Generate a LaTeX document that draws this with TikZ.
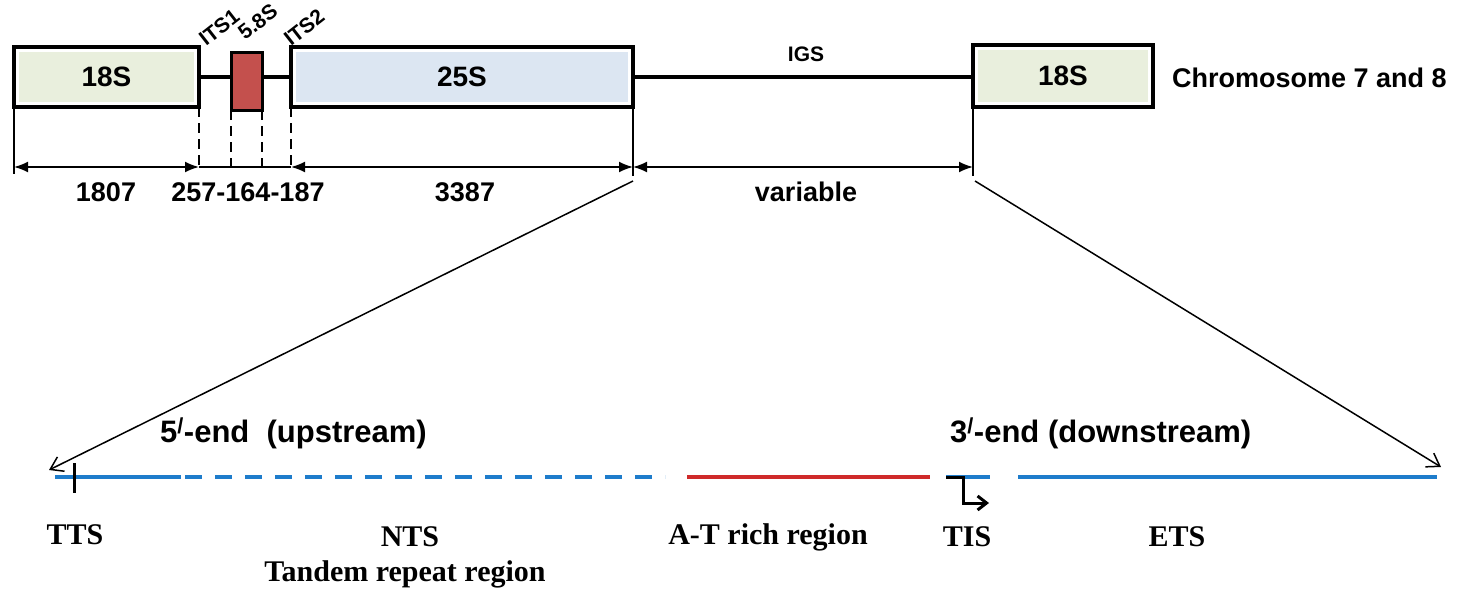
\documentclass[tikz,border=0pt]{standalone}
\usepackage{fontspec}
\setmainfont{Liberation Serif}
\setsansfont{Liberation Sans}
\usetikzlibrary{arrows.meta}

\definecolor{greenfill}{HTML}{E9EFDD}
\definecolor{bluefill}{HTML}{DCE6F2}
\definecolor{redbox}{HTML}{C4504D}
\definecolor{lineblue}{HTML}{1E7CCB}
\definecolor{linered}{HTML}{CF2A2A}

\tikzset{
  gene/.style={draw=black, line width=4pt, fill=white, inner sep=0pt, outer sep=0pt,
    font=\sffamily\bfseries\fontsize{28}{30}\selectfont,
    path picture={\fill[#1]
      ([shift={(5pt,-5pt)}]path picture bounding box.north west) rectangle
      ([shift={(-5pt,5pt)}]path picture bounding box.south east);}},
  spacer/.style={line width=4pt},
  dimline/.style={line width=1.8pt},
  dimarrow/.style={line width=1.8pt, {Latex[length=14pt,width=11pt]}-{Latex[length=14pt,width=11pt]}},
  guide/.style={line width=1.8pt},
  guidedash/.style={line width=2pt, dash pattern=on 10pt off 6pt},
  zoomline/.style={line width=1.5pt, -{Straight Barb[length=12pt,width=16pt,line width=1.5pt]}},
  toplabel/.style={font=\sffamily\bfseries\fontsize{27}{30}\selectfont, inner sep=0pt},
  smalllabel/.style={font=\sffamily\bfseries\fontsize{21}{24}\selectfont, inner sep=0pt},
  endlabel/.style={font=\sffamily\bfseries\fontsize{31}{34}\selectfont, inner sep=0pt},
  region/.style={font=\rmfamily\bfseries\fontsize{30}{34}\selectfont, inner sep=0pt},
  dna/.style={line width=3.2pt, color=lineblue},
}

\begin{document}
\begin{tikzpicture}[x=1pt, y=-1pt]
\useasboundingbox[fill=white] (0,0) rectangle (1473,589);

% ---- rDNA unit ----
\node[gene=greenfill, minimum width=185pt, minimum height=60pt] (s18a) at (106.5,77) {18S};
\node[draw=black, line width=3pt, fill=redbox, minimum width=31pt, minimum height=58pt, inner sep=0pt, outer sep=0pt] (s58) at (246.5,81) {};
\node[gene=bluefill, minimum width=342pt, minimum height=60pt] (s25) at (462,77) {25S};
\node[gene=greenfill, minimum width=180pt, minimum height=62pt] (s18b) at (1063,76) {18S};

\draw[spacer] (s18a.east) -- (s58.west |- s18a.east);
\draw[spacer] (s58.east |- s18a.east) -- (s25.west);
\draw[spacer] (s25.east) -- (s18b.west |- s25.east);

\node[toplabel, anchor=west] (chrom) at (1172,78) {Chromosome 7 and 8};
\node[smalllabel] (igs) at (806,54) {IGS};
\node[smalllabel, rotate=38, anchor=base west] (its1) at (206,47) {ITS1};
\node[smalllabel, rotate=38, anchor=base west] (lab58) at (245,41) {5.8S};
\node[smalllabel, rotate=38, anchor=base west] (its2) at (291,47) {ITS2};

% ---- length guides ----
\coordinate (g0) at (14,174);
\coordinate (g1) at (199,167);
\coordinate (g2) at (231,167);
\coordinate (g3) at (262,167);
\coordinate (g4) at (291,167);
\coordinate (g5) at (633,176);
\coordinate (g6) at (973,176);

\draw[guide] (s18a.south west) -- (g0);
\draw[guidedash] (s18a.south east) -- (g1);
\draw[guidedash] (s58.south west) -- (g2);
\draw[guidedash] (s58.south east) -- (g3);
\draw[guidedash] (s25.south west) -- (g4);
\draw[guide] (s25.south east) -- (g5);
\draw[guide] (s18b.south west) -- (g6);

\coordinate (d0) at (14,167);
\coordinate (d5) at (633,167);
\coordinate (d6) at (973,167);
\draw[dimarrow] (d0) -- (g1);
\draw[dimline] (g1) -- (g4);
\draw[dimarrow] (g4) -- (d5);
\draw[dimarrow] (d5) -- (d6);

\node[toplabel] (n1807) at (106,192) {1807};
\node[toplabel] (nits) at (248,192) {257-164-187};
\node[toplabel] (n3387) at (465,192) {3387};
\node[toplabel] (nvar) at (806,192) {variable};

% ---- IGS expanded ----
\coordinate (z0) at (633,181);
\coordinate (z1) at (975,181);
\coordinate (b0) at (55,477);
\coordinate (b1) at (181,477);
\coordinate (b2) at (185,477);
\coordinate (b3) at (665,477);
\coordinate (r0) at (687,477);
\coordinate (r1) at (930,477);
\coordinate (t0) at (946,477);
\coordinate (t1) at (990,477);
\coordinate (e0) at (1018,477);
\coordinate (e1) at (1437,477);

\draw[zoomline] (z0) -- (49,470);
\draw[zoomline] (z1) -- (1441,467);

\draw[dna] (b0) -- (b1);
\draw[dna, dash pattern=on 17pt off 13pt] (b2) -- (b3);
\draw[dna, color=linered] (r0) -- (r1);
\draw[dna] (t0) -- (t1);
\draw[dna] (e0) -- (e1);

% termination and initiation sites
\coordinate (tts) at (74,463);
\coordinate (ttsb) at (74,493);
\draw[line width=3pt] (tts) -- (ttsb);
\coordinate (tis) at (946,477);
\coordinate (tisend) at (989,503);
\draw[line width=3pt, -{Straight Barb[length=9pt,width=14pt,line width=3pt]}]
  (tis) -- (963,477) -- (963,503) -- (tisend);

\node[endlabel, anchor=west] (up) at (160,433) {5\textsuperscript{/}-end\ \ (upstream)};
\node[endlabel, anchor=west] (down) at (950,433) {3\textsuperscript{/}-end (downstream)};

\node[region] (ltts) at (75,535) {TTS};
\node[region] (lnts) at (410,537) {NTS};
\node[region] (ltand) at (405,574) {Tandem repeat region};
\node[region] (lat) at (768,537) {A-T rich region};
\node[region] (ltis) at (967,537) {TIS};
\node[region] (lets) at (1177,537) {ETS};
\end{tikzpicture}
\end{document}
